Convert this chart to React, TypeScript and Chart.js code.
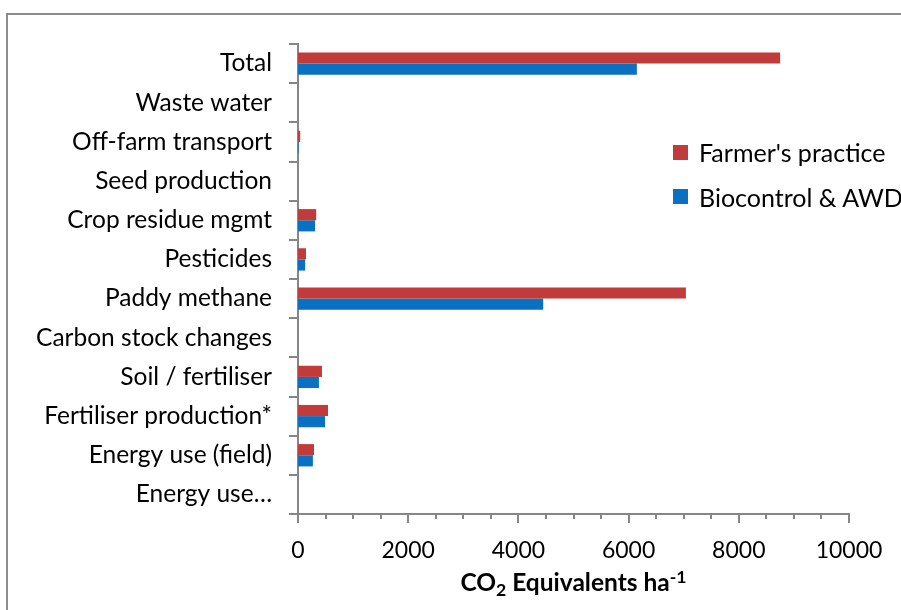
import React, { useEffect, useRef } from "react";
import { Chart, registerables } from "chart.js";

Chart.register(...registerables);

const categories = [
  "Total",
  "Waste water",
  "Off-farm transport",
  "Seed production",
  "Crop residue mgmt",
  "Pesticides",
  "Paddy methane",
  "Carbon stock changes",
  "Soil / fertiliser",
  "Fertiliser production*",
  "Energy use (field)",
  "Energy use…",
];
const farmersPractice = [8750, 0, 40, 0, 330, 145, 7040, 0, 435, 545, 290, 0];
const biocontrolAWD = [6150, 0, 10, 0, 310, 130, 4450, 0, 380, 490, 270, 0];
const seriesNames = ["Farmer's practice", "Biocontrol & AWD"];
const xMin = 0;
const xMax = 10000;
const xMinorStep = 500;
const xLabelStep = 2000;

const RED = "#C23B3B";
const BLUE = "#0A70C2";
const AXIS = "#868686";
const FONT = "Lato";

const xTickPlugin = {
  id: "xTickMarks",
  afterDraw(chart: any) {
    const s = chart.scales.x;
    const ctx = chart.ctx;
    ctx.save();
    ctx.strokeStyle = AXIS;
    ctx.lineWidth = 2;
    for (const t of s.ticks) {
      const px = Math.round(s.getPixelForValue(t.value));
      const len = t.value % xLabelStep === 0 ? 9 : 5;
      ctx.beginPath();
      ctx.moveTo(px, s.top);
      ctx.lineTo(px, s.top + len);
      ctx.stroke();
    }
    ctx.restore();
  },
};

export default function App() {
  const ref = useRef<HTMLCanvasElement | null>(null);

  useEffect(() => {
    if (!ref.current) return;
    const chart = new Chart(ref.current, {
      type: "bar",
      data: {
        labels: categories,
        datasets: [
          {
            label: seriesNames[0],
            data: farmersPractice,
            backgroundColor: RED,
            borderWidth: 0,
            categoryPercentage: 0.57,
            barPercentage: 1,
          },
          {
            label: seriesNames[1],
            data: biocontrolAWD,
            backgroundColor: BLUE,
            borderWidth: 0,
            categoryPercentage: 0.57,
            barPercentage: 1,
          },
        ],
      },
      options: {
        indexAxis: "y",
        responsive: false,
        animation: false,
        layout: { padding: { top: 44, right: 52, left: 0, bottom: 0 } },
        plugins: {
          legend: { display: false },
          tooltip: { enabled: false },
        },
        scales: {
          x: {
            type: "linear",
            min: xMin,
            max: xMax,
            afterFit: (scale: any) => {
              scale.height = 96;
              scale.paddingLeft = 0;
              scale.paddingRight = 0;
            },
            grid: { display: false, drawTicks: false },
            border: { display: true, color: AXIS, width: 2 },
            ticks: {
              stepSize: xMinorStep,
              autoSkip: false,
              maxRotation: 0,
              padding: 23,
              color: "#000",
              font: { family: FONT, size: 23 },
              callback: (v: any) => (Number(v) % xLabelStep === 0 ? String(v) : ""),
            },
          },
          y: {
            type: "category",
            offset: true,
            afterFit: (scale: any) => {
              scale.width = 298;
              scale.paddingTop = 0;
              scale.paddingBottom = 0;
            },
            grid: {
              display: true,
              offset: true,
              drawOnChartArea: false,
              drawTicks: true,
              tickLength: 9,
              color: AXIS,
              lineWidth: 2,
            },
            border: { display: true, color: AXIS, width: 2 },
            ticks: {
              padding: 17,
              autoSkip: false,
              color: "#000",
              font: { family: FONT, size: 24.5 },
            },
          },
        },
      },
      plugins: [xTickPlugin],
    } as any);
    return () => chart.destroy();
  }, []);

  return (
    <div
      style={{
        position: "fixed",
        left: 0,
        top: 0,
        width: 901,
        height: 610,
        overflow: "hidden",
        background: "#fff",
        fontFamily: FONT,
      }}
    >
      <div
        style={{
          position: "absolute",
          left: 6,
          top: 13,
          width: 1000,
          height: 1000,
          borderTop: "2px solid #8c8c8c",
          borderLeft: "2px solid #8c8c8c",
        }}
      />
      <canvas
        ref={ref}
        width={901}
        height={610}
        style={{ position: "absolute", left: 0, top: 0, width: 901, height: 610 }}
      />
      {seriesNames.map((name, i) => (
        <div key={name}>
          <div
            style={{
              position: "absolute",
              left: 673,
              top: 145 + i * 44,
              width: 15,
              height: 15,
              background: i === 0 ? RED : BLUE,
            }}
          />
          <div
            style={{
              position: "absolute",
              left: 699,
              top: 137 + i * 45,
              fontSize: 25,
              lineHeight: "30px",
              color: "#000",
              whiteSpace: "nowrap",
            }}
          >
            {name}
          </div>
        </div>
      ))}
      <div
        style={{
          position: "absolute",
          left: 298,
          width: 551,
          top: 567,
          textAlign: "center",
          fontSize: 24.5,
          lineHeight: "29px",
          fontWeight: "bold",
          color: "#000",
          whiteSpace: "nowrap",
        }}
      >
        CO
        <span style={{ fontSize: "0.72em", position: "relative", top: "0.3em" }}>2</span>
        {" Equivalents  ha"}
        <span style={{ fontSize: "0.72em", position: "relative", top: "-0.45em" }}>-1</span>
      </div>
    </div>
  );
}
